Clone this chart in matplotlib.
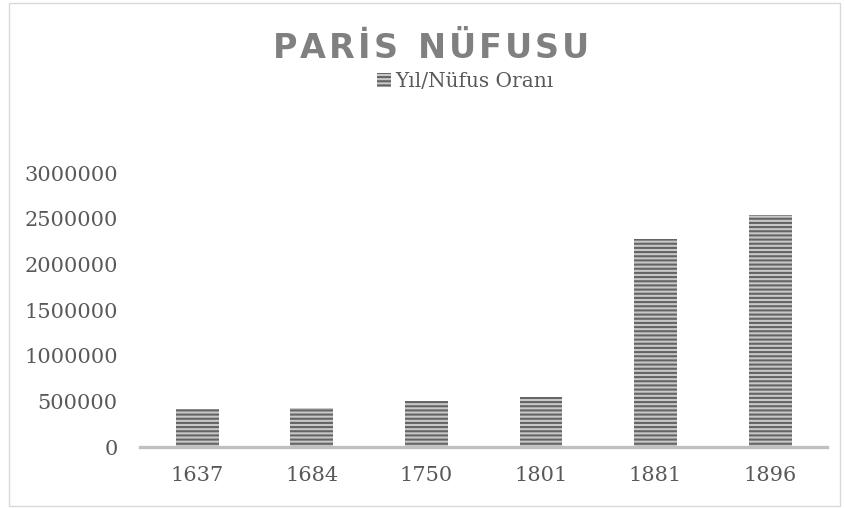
"""Paris population bar chart (Excel-style striped columns)."""
import matplotlib
matplotlib.use("Agg")
import matplotlib.pyplot as plt
import matplotlib.patches as mpatches

years = ["1637", "1684", "1750", "1801", "1881", "1896"]
population = [415000, 425000, 500000, 547000, 2275000, 2538000]
y_ticks = [0, 500000, 1000000, 1500000, 2000000, 2500000, 3000000]

TITLE = "PARİS NÜFUSU"
SERIES = "Yıl/Nüfus Oranı"

TEXT_GRAY = "#595959"
TITLE_GRAY = "#808080"
AXIS_GRAY = "#c0c0c0"
BAR_FACE = "#c8c8c8"
BAR_HATCH = "#646464"

plt.rcParams["hatch.linewidth"] = 1.5

fig = plt.figure(figsize=(8.46, 5.08), dpi=100)
ax = fig.add_axes([0.1655, 0.12, 0.978 - 0.1655, 0.6594 - 0.12])

x = range(len(years))
ax.bar(x, population, width=0.375, color=BAR_FACE, hatch="----",
       edgecolor=BAR_HATCH, linewidth=0)

ax.set_xlim(-0.5, len(years) - 0.5)
ax.set_ylim(0, 3000000)
ax.set_xticks(list(x))
ax.set_xticklabels(years)
ax.set_yticks(y_ticks)
ax.set_yticklabels([str(v) for v in y_ticks])

for side in ("top", "right", "left"):
    ax.spines[side].set_visible(False)
ax.spines["bottom"].set_color(AXIS_GRAY)
ax.spines["bottom"].set_linewidth(2.4)
ax.tick_params(axis="both", length=0, labelcolor=TEXT_GRAY, labelsize=15)
ax.tick_params(axis="y", pad=16)
ax.tick_params(axis="x", pad=14)
for lbl in ax.get_xticklabels() + ax.get_yticklabels():
    lbl.set_family("DejaVu Serif")

# title with letter spacing: place characters one by one
renderer = fig.canvas.get_renderer()
title_kw = dict(fontsize=24, fontweight="bold", color=TITLE_GRAY, family="DejaVu Sans",
                va="center", ha="left")
tracking = 3.0  # px between letters
widths = []
for ch in TITLE:
    t = fig.text(0, 0, ch if ch != " " else "n", **title_kw)
    w = t.get_window_extent(renderer).width
    widths.append(w * (0.6 if ch == " " else 1.0))
    t.remove()
total = sum(widths) + tracking * (len(TITLE) - 1)
cx, cy = 431, 508 - 49
xpos = cx - total / 2
for ch, w in zip(TITLE, widths):
    if ch != " ":
        fig.text(xpos / 846, cy / 508, ch, **title_kw)
    xpos += w + tracking

# legend entry under the title
handle = mpatches.Patch(facecolor=BAR_FACE, hatch="----", edgecolor=BAR_HATCH,
                        linewidth=0)
leg = fig.legend(handles=[handle], labels=[SERIES], loc="center",
                 bbox_to_anchor=(0.55, 0.84), frameon=False, handlelength=0.7,
                 handleheight=0.7, handletextpad=0.25,
                 prop={"family": "DejaVu Serif", "size": 14.5})
for t in leg.get_texts():
    t.set_color(TEXT_GRAY)

# chart border
fig.patches.append(mpatches.Rectangle((0.011, 0.004), 0.982, 0.99, transform=fig.transFigure,
                                      fill=False, edgecolor="#d9d9d9", linewidth=1.0))

fig.savefig("out.png", dpi=100)
